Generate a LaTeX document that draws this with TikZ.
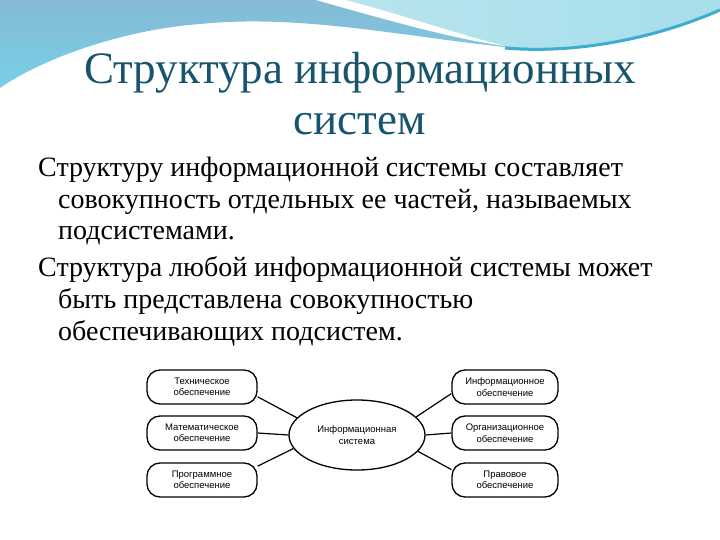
\documentclass[tikz,border=0pt]{standalone}
\usepackage{fontspec}
\setmainfont{Liberation Serif}
\setsansfont{Liberation Sans}
\usetikzlibrary{shapes.geometric}
\definecolor{titlecol}{RGB}{23,84,110}
\definecolor{bluetop}{RGB}{134,186,214}
\definecolor{bluebot}{RGB}{118,208,230}
\definecolor{lenscol}{RGB}{166,222,234}
\definecolor{lensedge}{RGB}{60,172,208}
\tikzset{
  subbox/.style={draw=black, line width=1.3pt, rounded corners=13pt, minimum width=110pt, minimum height=34pt, align=center, font=\sffamily\fontsize{9.5}{11.5}\selectfont, inner sep=1pt},
  centre/.style={draw=black, line width=1.3pt, ellipse, minimum width=136pt, minimum height=70pt, align=center, font=\sffamily\fontsize{9.5}{11.5}\selectfont},
  link/.style={line width=1.2pt},
  titletext/.style={font=\fontsize{45}{50}\selectfont, text=titlecol, anchor=base},
  bodytext/.style={font=\fontsize{28}{32}\selectfont, anchor=base west, inner sep=0pt}
}
\begin{document}
\begin{tikzpicture}[x=1pt,y=-1pt]
\useasboundingbox (0,0) rectangle (720,540);
\fill[white] (0,0) rectangle (720,540);
% top decoration
\shade[top color=bluetop, bottom color=bluebot] (0,0) -- (720,0) -- (720,10) .. controls (640,45) and (560,52) .. (505,47) .. controls (400,36) and (300,14) .. (200,24) .. controls (120,30) and (40,60) .. (0,88) -- cycle;
\shade[left color=lenscol!80!white, right color=lenscol] (330,0) .. controls (400,20) and (460,38) .. (505,46) .. controls (560,52) and (640,45) .. (720,10) -- (720,0) -- cycle;
\fill[white] (316,0) .. controls (400,24) and (460,40) .. (505,46) .. controls (460,35) and (400,14) .. (345,0) -- cycle;
\draw[lensedge, line width=3pt] (505,48) .. controls (560,53) and (640,45) .. (720,10);
% title
\node[titletext] (t1) at (360,84) {Структура информационных};
\node[titletext] (t2) at (360,135) {систем};
% body
\node[bodytext] (b1) at (38,177) {Структуру информационной системы составляет};
\node[bodytext] (b2) at (58,208) {совокупность отдельных ее частей, называемых};
\node[bodytext] (b3) at (58,240) {подсистемами.};
\node[bodytext] (b4) at (38,276) {Структура любой информационной системы может};
\node[bodytext] (b5) at (58,308) {быть представлена совокупностью};
\node[bodytext] (b6) at (58,340) {обеспечивающих подсистем.};
% diagram
\node[centre] (ell) at (357,435) {Информационная\\система};
\node[subbox] (l1) at (202,387) {Техническое\\обеспечение};
\node[subbox] (l2) at (202,433) {Математическое\\обеспечение};
\node[subbox] (l3) at (202,480) {Программное\\обеспечение};
\node[subbox, minimum width=106pt] (r1) at (505,387) {Информационное\\обеспечение};
\node[subbox, minimum width=106pt] (r2) at (505,433) {Организационное\\обеспечение};
\node[subbox, minimum width=106pt] (r3) at (505,480) {Правовое\\обеспечение};
\draw[link] (l1.-10) -- (ell.164);
\draw[link] (l2.east) -- (ell.west);
\draw[link] (l3.14) -- (ell.192);
\draw[link] (r1.187) -- (ell.17);
\draw[link] (r2.west) -- (ell.east);
\draw[link] (r3.169) -- (ell.345);
\end{tikzpicture}
\end{document}
